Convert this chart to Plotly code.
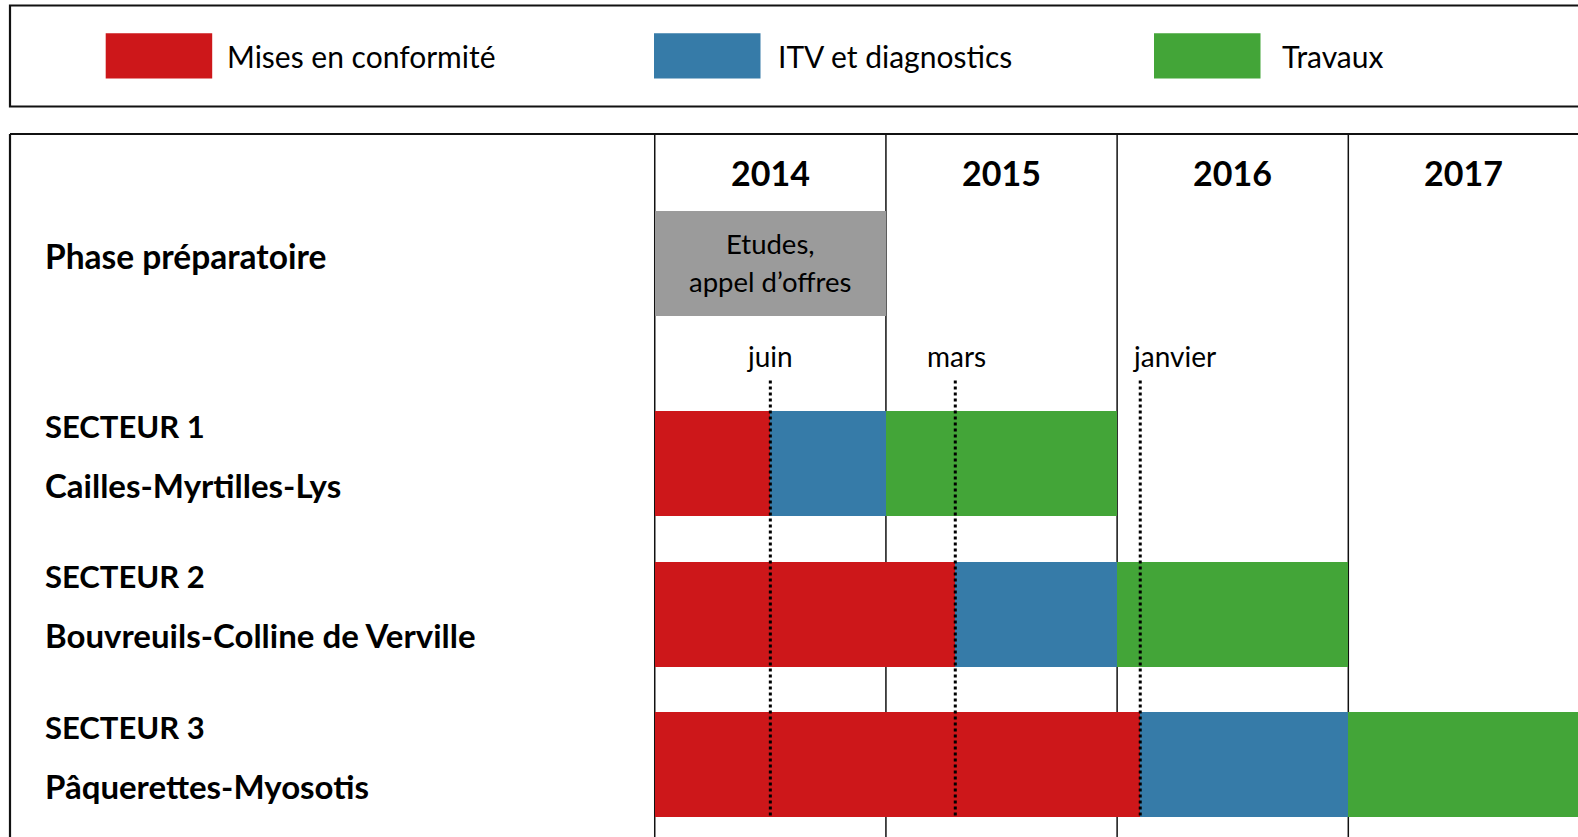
import plotly.graph_objects as go

# ---------------- data ----------------
years = [2014, 2015, 2016, 2017]
year_labels = ["2014", "2015", "2016", "2017"]
series = ["Mises en conformité", "ITV et diagnostics", "Travaux"]
series_colors = ["#CD171A", "#367BA8", "#43A538"]

sector_codes = ["SECTEUR 1", "SECTEUR 2", "SECTEUR 3"]
sector_names = ["Cailles-Myrtilles-Lys", "Bouvreuils-Colline de Verville", "Pâquerettes-Myosotis"]
sector_rows = [1, 2, 3]

# start / end of each phase, in decimal years
mises_start = [2014.0, 2014.0, 2014.0]
mises_end = [2014.5, 2015.3, 2016.1]
itv_start = [2014.5, 2015.3, 2016.1]
itv_end = [2015.0, 2016.0, 2017.0]
travaux_start = [2015.0, 2016.0, 2017.0]
travaux_end = [2016.0, 2017.0, 2018.0]

prep_label = "Phase préparatoire"
prep_text_lines = ["Etudes,", "appel d’offres"]
prep_start = [2014.0]
prep_end = [2015.0]
prep_row = -0.326

milestones = ["juin", "mars", "janvier"]
milestone_x = [2014.5, 2015.3, 2016.1]

# ---------------- layout constants ----------------
W, H = 1578, 837
FONT = "Lato"
BAR_W = 0.697
X_RANGE = [2011.168, 2017.9935]
Y_RANGE = [3.478, -2.0756]
TABLE_TOP = -1.185
YEAR_ROW = -0.921
MILESTONE_ROW = 0.295
DOT_TOP = 0.4486
DOT_BOTTOM = 3.3485
LABEL_X = 42.8


def px_x(p):
    return p / W


def px_y(p):
    return 1 - p / H


fig = go.Figure()

starts = [mises_start, itv_start, travaux_start]
ends = [mises_end, itv_end, travaux_end]
for name, col, s, e in zip(series, series_colors, starts, ends):
    fig.add_trace(go.Bar(
        orientation="h", y=sector_rows, base=s,
        x=[b - a for a, b in zip(s, e)], width=BAR_W,
        marker=dict(color=col, line=dict(width=0)), name=name,
        hoverinfo="skip"))

fig.add_trace(go.Bar(
    orientation="h", y=[prep_row], base=prep_start,
    x=[b - a for a, b in zip(prep_start, prep_end)], width=BAR_W,
    marker=dict(color="#9B9B9B", line=dict(width=0)), name=prep_label,
    hoverinfo="skip"))

for m in milestone_x:
    fig.add_trace(go.Scatter(
        x=[m, m], y=[DOT_TOP, DOT_BOTTOM], mode="lines",
        line=dict(color="black", width=3, dash="dot"), hoverinfo="skip"))

shapes = []
# year column separators
for yv in years:
    shapes.append(dict(type="line", xref="x", yref="y", x0=yv, x1=yv,
                       y0=TABLE_TOP, y1=Y_RANGE[0], layer="below",
                       line=dict(color="#111111", width=1.5)))
# table borders
shapes.append(dict(type="line", xref="paper", yref="paper", x0=px_x(10), x1=1.02,
                   y0=px_y(134), y1=px_y(134), line=dict(color="#111111", width=2.2)))
shapes.append(dict(type="line", xref="paper", yref="paper", x0=px_x(10), x1=px_x(10),
                   y0=px_y(134), y1=-0.02, line=dict(color="#111111", width=2.2)))
# legend box
shapes.append(dict(type="rect", xref="paper", yref="paper", x0=px_x(10), x1=1.02,
                   y0=px_y(106.5), y1=px_y(5.5), line=dict(color="#111111", width=2.2)))

annotations = []
legend_swatch_x = [105.7, 654, 1154]
legend_text_x = [224.5, 776, 1280]
for name, col, sx, tx in zip(series, series_colors, legend_swatch_x, legend_text_x):
    shapes.append(dict(type="rect", xref="paper", yref="paper", x0=px_x(sx), x1=px_x(sx + 106.5),
                       y0=px_y(78.5), y1=px_y(33.2), fillcolor=col, line=dict(width=0)))
    annotations.append(dict(xref="paper", yref="paper", x=px_x(tx), y=px_y(56.5),
                            text=name, showarrow=False, xanchor="left", yanchor="middle",
                            font=dict(family=FONT, size=30, color="black")))

# year headers
for yv, lab in zip(years, year_labels):
    annotations.append(dict(xref="x", yref="y", x=yv + 0.5, y=YEAR_ROW, yshift=2,
                            text="<b>%s</b>" % lab,
                            showarrow=False, xanchor="center", yanchor="middle",
                            font=dict(family=FONT, size=34, color="black")))

# prep phase
annotations.append(dict(xref="paper", yref="y", x=px_x(LABEL_X), y=prep_row, yshift=8,
                        text="<b>%s</b>" % prep_label, showarrow=False, xanchor="left",
                        yanchor="middle", font=dict(family=FONT, size=33.5, color="black")))
for line_text, shift in zip(prep_text_lines, [20, -18]):
    annotations.append(dict(xref="x", yref="y", x=(prep_start[0] + prep_end[0]) / 2, y=prep_row,
                            yshift=shift, text=line_text, showarrow=False, xanchor="center",
                            yanchor="middle", font=dict(family=FONT, size=27.5, color="black")))

# milestones labels
m_anchor = ["center", "center", "left"]
m_shift = [0, 1, -9]
for lab, m, anc, sh in zip(milestones, milestone_x, m_anchor, m_shift):
    annotations.append(dict(xref="x", yref="y", x=m, y=MILESTONE_ROW, text=lab, xshift=sh,
                            yshift=1, showarrow=False, xanchor=anc, yanchor="middle",
                            font=dict(family=FONT, size=28, color="black")))

# sector labels
for code, nm, r in zip(sector_codes, sector_names, sector_rows):
    annotations.append(dict(xref="paper", yref="y", x=px_x(LABEL_X), y=r, yshift=38,
                            text="<b>%s</b>" % code, showarrow=False, xanchor="left",
                            yanchor="middle", font=dict(family=FONT, size=31, color="black")))
    annotations.append(dict(xref="paper", yref="y", x=px_x(LABEL_X), y=r, yshift=-21,
                            text="<b>%s</b>" % nm, showarrow=False, xanchor="left",
                            yanchor="middle", font=dict(family=FONT, size=33, color="black")))

fig.update_layout(
    width=W, height=H, margin=dict(l=0, r=0, t=0, b=0, pad=0),
    paper_bgcolor="white", plot_bgcolor="white", showlegend=False,
    barmode="overlay", bargap=0,
    xaxis=dict(range=X_RANGE, visible=False, fixedrange=True),
    yaxis=dict(range=Y_RANGE, visible=False, fixedrange=True),
    shapes=shapes, annotations=annotations,
)

fig.write_html("out.html", config={"displayModeBar": False},
               post_script="document.body.style.margin='0';document.body.style.overflow='hidden';")
